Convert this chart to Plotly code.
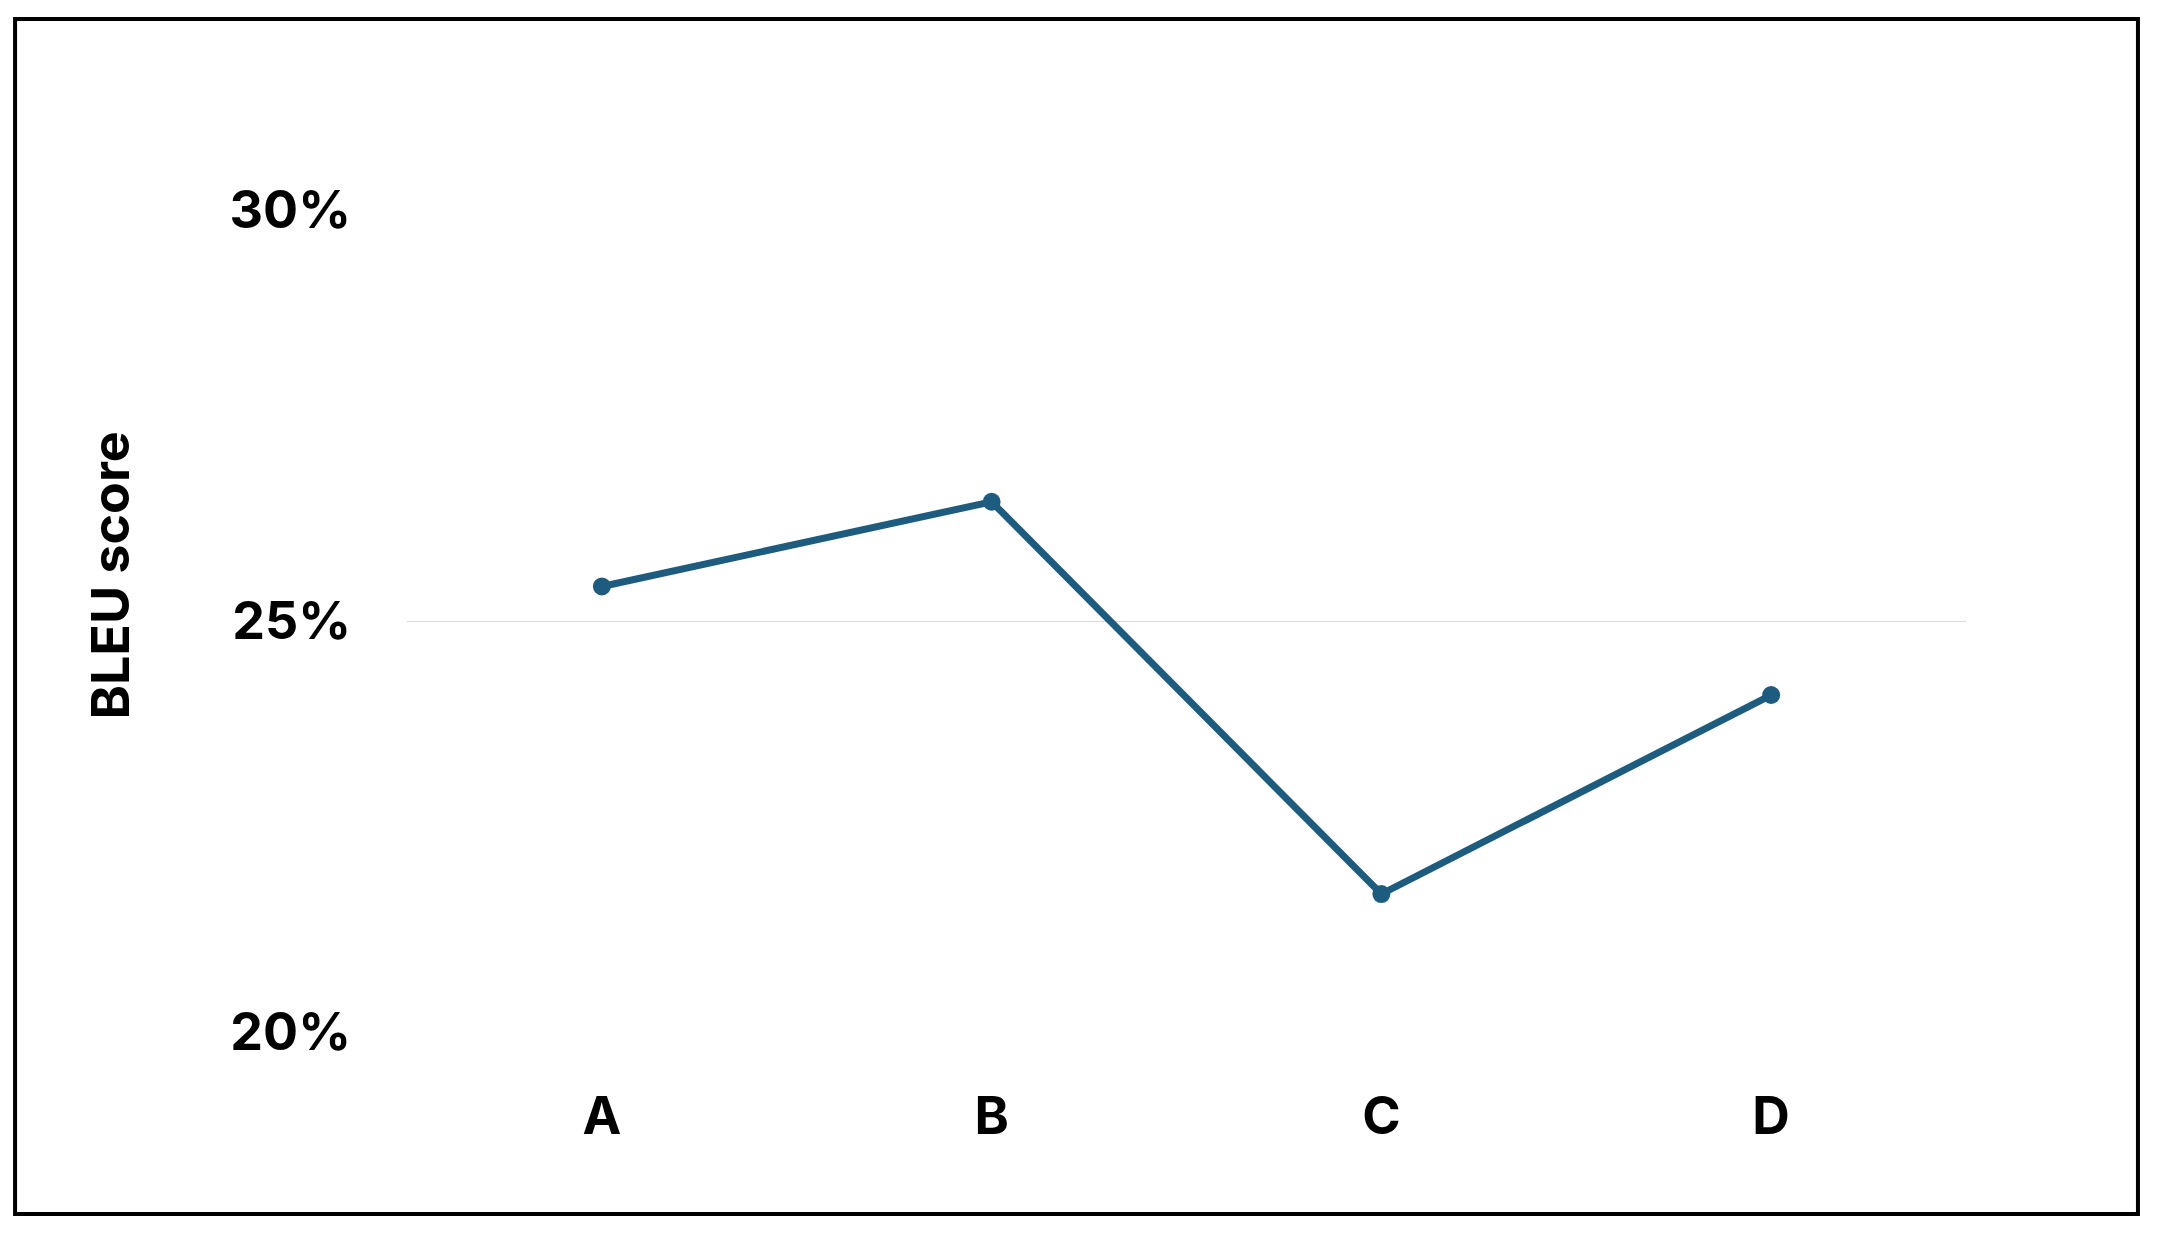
import plotly.graph_objects as go

categories = ["A", "B", "C", "D"]
bleu = [25.42, 26.45, 21.68, 24.1]
y_ticks = [20, 25, 30]
y_tick_labels = ["20%", "25%", "30%"]

fig = go.Figure(go.Scatter(x=categories, y=bleu, mode="lines+markers",
    line=dict(color="#1d5c7e", width=7), marker=dict(size=18, color="#1d5c7e")))

font = dict(family="Inter, Liberation Sans, sans-serif", size=52, color="black", weight="bold")
fig.update_layout(
    width=2158, height=1236, paper_bgcolor="white", plot_bgcolor="white",
    margin=dict(l=399, r=200, t=201, b=211), showlegend=False,
    xaxis=dict(range=[-0.5, 3.5], showgrid=False, showline=False, ticks="",
               tickfont=font, ticklabelstandoff=48),
    yaxis=dict(range=[19.99, 30.01], tickvals=y_ticks, ticktext=y_tick_labels, tickfont=font,
               showgrid=True, gridcolor="#d9d9d9", gridwidth=1, zeroline=False,
               showline=False, ticks="", ticklabelstandoff=55),
    annotations=[dict(text="BLEU score", xref="paper", yref="paper", x=-0.19, y=0.555,
                      textangle=-90, showarrow=False, font=font, xanchor="center", yanchor="middle")],
    shapes=[dict(type="rect", xref="paper", yref="paper", x0=-0.2514, x1=1.1103,
                 y0=-0.2197, y1=1.2306, line=dict(color="black", width=4))],
)
fig.write_html("out.html")
